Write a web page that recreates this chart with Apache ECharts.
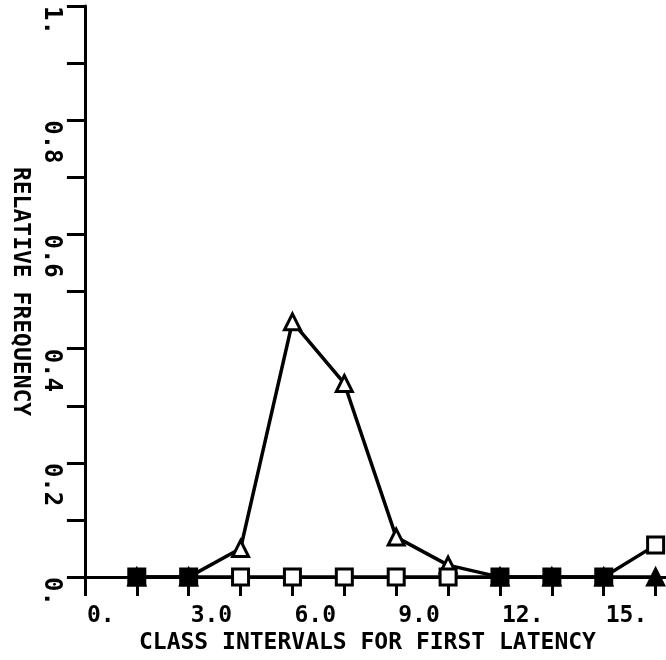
<!DOCTYPE html>
<html>
<head>
<meta charset="utf-8">
<script src="https://cdn.jsdelivr.net/npm/echarts@6/dist/echarts.min.js"></script>
<style>
html,body{margin:0;padding:0;background:#fff;}
#c{width:666px;height:660px;}
</style>
</head>
<body>
<div id="c"></div>
<script>
var xValues = [1.5, 3, 4.5, 6, 7.5, 9, 10.5, 12, 13.5, 15, 16.5];
var triangleValues = [0, 0, 0.05, 0.447, 0.339, 0.07, 0.021, 0, 0, 0, 0];
var squareValues = [0, 0, 0, 0, 0, 0, 0, 0, 0, 0, 0.056];
var xTickValues = [0, 1.5, 3, 4.5, 6, 7.5, 9, 10.5, 12, 13.5, 15, 16.5];
var xLabelValues = [0, 3, 6, 9, 12, 15];
var xLabelTexts = ['0.', '3.0', '6.0', '9.0', '12.', '15.'];
var yLabelValues = [0, 0.2, 0.4, 0.6, 0.8, 1];
var yLabelTexts = ['0.', '0.2', '0.4', '0.6', '0.8', '1.'];

var FONT = 'DejaVu Sans Mono';
var txt = {fontFamily: FONT, fontWeight: 'bold', fontSize: 23, color: '#000'};

var triData = xValues.map(function (x, i) {
  var item = {value: [x, triangleValues[i]]};
  if (triangleValues[i] === 0 && squareValues[i] !== 0) {
    item.itemStyle = {color: '#000'};
  }
  return item;
});
var sqData = xValues.map(function (x, i) {
  var item = {value: [x, squareValues[i]]};
  if (squareValues[i] === triangleValues[i]) {
    item.itemStyle = {color: '#000'};
  }
  return item;
});

var chart = echarts.init(document.getElementById('c'));
chart.setOption({
  backgroundColor: '#fff',
  animation: false,
  grid: {left: 80, top: 6, right: 0, bottom: 79, containLabel: false},
  xAxis: {
    type: 'value',
    min: 0,
    max: 16.8,
    interval: 1.5,
    name: 'CLASS INTERVALS FOR FIRST LATENCY',
    nameLocation: 'middle',
    nameGap: 59,
    nameTextStyle: Object.assign({}, txt, {verticalAlign: 'middle', align: 'center', padding: [0, 16, 0, 0]}),
    axisLine: {show: true, onZero: false, lineStyle: {color: '#000', width: 3}},
    axisTick: {show: true, inside: false, length: 19, customValues: xTickValues, lineStyle: {color: '#000', width: 3}},
    axisLabel: Object.assign({}, txt, {
      customValues: xLabelValues,
      margin: 27,
      align: 'left',
      padding: [0, 0, 0, 2],
      formatter: function (v) {
        var i = xLabelValues.indexOf(v);
        return i >= 0 ? xLabelTexts[i] : '';
      }
    }),
    splitLine: {show: false}
  },
  yAxis: {
    type: 'value',
    min: 0,
    max: 1,
    interval: 0.1,
    name: 'RELATIVE FREQUENCY',
    nameLocation: 'middle',
    nameGap: 57,
    nameRotate: -90,
    nameTextStyle: Object.assign({}, txt, {align: 'center', verticalAlign: 'middle'}),
    axisLine: {show: true, onZero: false, lineStyle: {color: '#000', width: 3}},
    axisTick: {show: true, inside: false, length: 18, lineStyle: {color: '#000', width: 3}},
    axisLabel: Object.assign({}, txt, {
      customValues: yLabelValues,
      rotate: -90,
      margin: 22,
      align: 'left',
      verticalAlign: 'top',
      fontSize: 24,
      formatter: function (v) {
        for (var i = 0; i < yLabelValues.length; i++) {
          if (Math.abs(yLabelValues[i] - v) < 1e-6) return yLabelTexts[i];
        }
        return '';
      }
    }),
    splitLine: {show: false}
  },
  series: [
    {
      type: 'line',
      data: triData,
      symbol: 'triangle',
      symbolSize: 16,
      showAllSymbol: true,
      clip: false,
      lineStyle: {color: '#000', width: 3.5},
      itemStyle: {color: '#fff', borderColor: '#000', borderWidth: 3}
    },
    {
      type: 'line',
      data: sqData,
      symbol: 'rect',
      symbolSize: 16,
      showAllSymbol: true,
      clip: false,
      lineStyle: {color: '#000', width: 3.5},
      itemStyle: {color: '#fff', borderColor: '#000', borderWidth: 3}
    }
  ]
});
</script>
</body>
</html>
